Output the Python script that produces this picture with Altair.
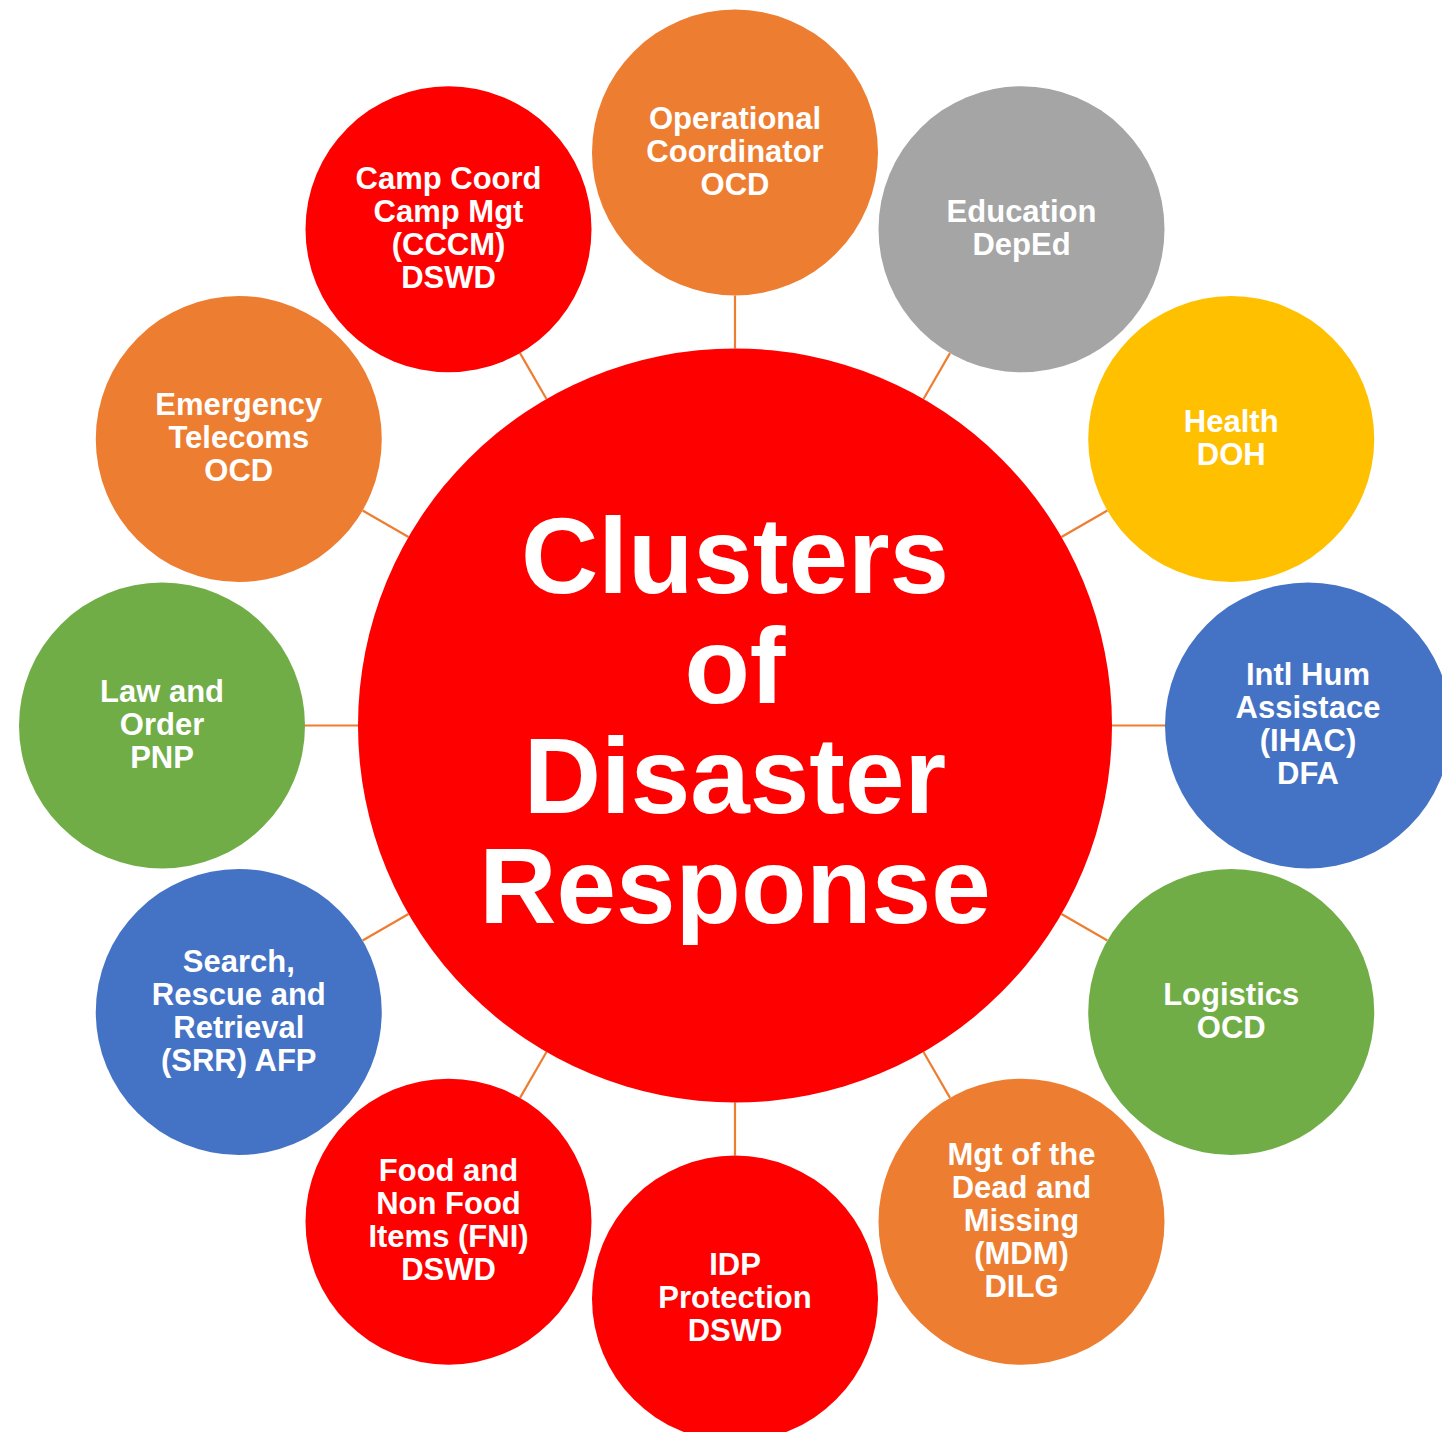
import math
import altair as alt
import pandas as pd

# ---- data ----
cluster_labels = [
    "Operational\nCoordinator\nOCD",
    "Education\nDepEd",
    "Health\nDOH",
    "Intl Hum\nAssistace\n(IHAC)\nDFA",
    "Logistics\nOCD",
    "Mgt of the\nDead and\nMissing\n(MDM)\nDILG",
    "IDP\nProtection\nDSWD",
    "Food and\nNon Food\nItems (FNI)\nDSWD",
    "Search,\nRescue and\nRetrieval\n(SRR) AFP",
    "Law and\nOrder\nPNP",
    "Emergency\nTelecoms\nOCD",
    "Camp Coord\nCamp Mgt\n(CCCM)\nDSWD",
]
cluster_colors = [
    "#ED7D31", "#A5A5A5", "#FFC000", "#4472C4", "#70AD47", "#ED7D31",
    "#FF0000", "#FF0000", "#4472C4", "#70AD47", "#ED7D31", "#FF0000",
]
center_label = "Clusters\nof\nDisaster\nResponse"
center_color = "#FF0000"
connector_color = "#ED7D31"

# ---- layout (unit: distance from hub to satellite centre = 1) ----
W, H = 1434, 1424
PX = 573.0                      # pixels per unit
cx_px, cy_px = 727.0, 717.5     # hub centre inside the view
hub_r_px, sat_r_px = 377.0, 143.0
r_in = hub_r_px / PX
r_out = (PX - sat_r_px) / PX
SAT_FS, SAT_LH = 31, 33
HUB_FS, HUB_LH = 107, 110


def text_y(y, label, lh):
    # shift so the block of lines is centred on the point
    return y + (label.count("\n")) / 2 * lh / PX


n = len(cluster_labels)
rows = []
for i, (lab, col) in enumerate(zip(cluster_labels, cluster_colors)):
    a = 2 * math.pi * i / n
    s, c = math.sin(a), math.cos(a)
    rows.append(dict(label=lab, color=col, x=s, y=c, ty=text_y(c, lab, SAT_LH),
                     x1=r_in * s, y1=r_in * c, x2=r_out * s, y2=r_out * c))
sats = pd.DataFrame(rows)
hub = pd.DataFrame([dict(label=center_label, color=center_color, x=0.0, y=0.0,
                         ty=text_y(0.0, center_label, HUB_LH))])

xs = alt.Scale(domain=[-cx_px / PX, (W - cx_px) / PX], nice=False, zero=False)
ys = alt.Scale(domain=[-(H - cy_px) / PX, cy_px / PX], nice=False, zero=False)
X = alt.X("x:Q", scale=xs, axis=None)
Y = alt.Y("y:Q", scale=ys, axis=None)
TY = alt.Y("ty:Q", scale=ys, axis=None)

connectors = alt.Chart(sats).mark_rule(color=connector_color, strokeWidth=2.2).encode(
    x=alt.X("x1:Q", scale=xs, axis=None), y=alt.Y("y1:Q", scale=ys, axis=None),
    x2="x2:Q", y2="y2:Q")

hub_circle = alt.Chart(hub).mark_circle(opacity=1, strokeWidth=0,
                                        size=(2 * hub_r_px) ** 2).encode(
    x=X, y=Y, color=alt.Color("color:N", scale=None))

sat_circles = alt.Chart(sats).mark_circle(opacity=1, strokeWidth=0,
                                          size=(2 * sat_r_px) ** 2).encode(
    x=X, y=Y, color=alt.Color("color:N", scale=None))

sat_text = alt.Chart(sats).mark_text(
    font="Liberation Sans", fontWeight="bold", fontSize=SAT_FS, lineHeight=SAT_LH,
    color="white", align="center", baseline="middle", lineBreak="\n").encode(
    x=X, y=TY, text="label:N")

hub_text = alt.Chart(hub).mark_text(
    font="Liberation Sans", fontWeight="bold", fontSize=HUB_FS, lineHeight=HUB_LH,
    color="white", align="center", baseline="middle", lineBreak="\n").encode(
    x=X, y=TY, text="label:N")

chart = alt.layer(connectors, hub_circle, sat_circles, sat_text, hub_text).properties(
    width=W, height=H, padding=0, autosize=alt.AutoSizeParams(type="none"),
    background="white"
).configure_view(stroke=None)

chart.save("out.html", embed_options={"renderer": "svg", "actions": False})
